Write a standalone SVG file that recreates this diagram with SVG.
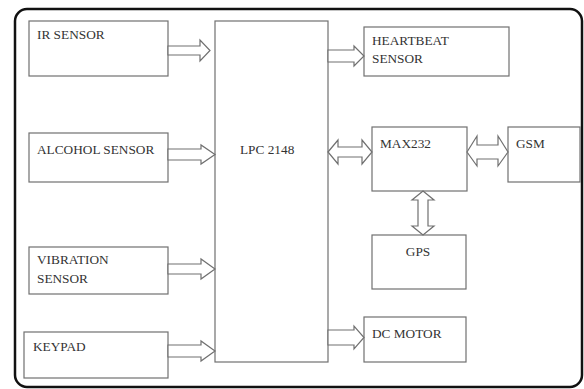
<svg xmlns="http://www.w3.org/2000/svg" width="584" height="389" viewBox="0 0 584 389" font-family="Liberation Serif, serif">
<style>
.box{fill:#fff;stroke:#707070;stroke-width:1.2}
.arr{fill:#fff;stroke:#707070;stroke-width:1.2;stroke-linejoin:miter}
.t{font-size:13.3px;fill:#333}
</style>
<rect width="584" height="389" fill="#fff"/>
<rect x="15" y="9" width="567" height="378" rx="12" fill="none" stroke="#111" stroke-width="2.5"/>
<g id="lpc"><rect class="box" x="215" y="21" width="113" height="341"/><text class="t" x="240" y="154">LPC 2148</text></g>
<g id="ir"><rect class="box" x="29" y="21" width="139" height="55"/><text class="t" x="37" y="39">IR SENSOR</text></g>
<g id="alcohol"><rect class="box" x="29" y="133" width="139" height="49"/><text class="t" x="37" y="154">ALCOHOL SENSOR</text></g>
<g id="vibration"><rect class="box" x="29" y="247" width="139" height="47"/><text class="t" x="37" y="264">VIBRATION</text><text class="t" x="37" y="283">SENSOR</text></g>
<g id="keypad"><rect class="box" x="24" y="332" width="144" height="46"/><text class="t" x="33" y="351">KEYPAD</text></g>
<g id="heartbeat"><rect class="box" x="364" y="27" width="145" height="49"/><text class="t" x="372" y="45">HEARTBEAT</text><text class="t" x="372" y="63">SENSOR</text></g>
<g id="max232"><rect class="box" x="372" y="127" width="95" height="64"/><text class="t" x="380" y="148">MAX232</text></g>
<g id="gsm"><rect class="box" x="508" y="127" width="72" height="55"/><text class="t" x="516" y="148">GSM</text></g>
<g id="gps"><rect class="box" x="372" y="235" width="94" height="54"/><text class="t" x="418" y="256" text-anchor="middle">GPS</text></g>
<g id="dcmotor"><rect class="box" x="364" y="317" width="102" height="45"/><text class="t" x="372" y="338">DC MOTOR</text></g>
<g id="connectors">
<polygon class="arr" points="168,46 200,46 200,40 210,50.5 200,61 200,55 168,55"/>
<polygon class="arr" points="168,149 201,149 201,145 215,154.5 201,164 201,160 168,160"/>
<polygon class="arr" points="168,264 201,264 201,259 215,269 201,279 201,274 168,274"/>
<polygon class="arr" points="168,345 201,345 201,341 215,351 201,361 201,357 168,357"/>
<polygon class="arr" points="328,50 354,50 354,46 364,56 354,66 354,62 328,62"/>
<polygon class="arr" points="328,330 354,330 354,326 364,337.5 354,349 354,345 328,345"/>
<polygon class="arr" points="328,152 338,140 338,147 362,147 362,140 372,152 362,164 362,157 338,157 338,164"/>
<polygon class="arr" points="467,152 477,136 477,145 498,145 498,136 508,152 498,166 498,159 477,159 477,166"/>
<polygon class="arr" points="423,191 434,200 428,200 428,226 434,226 423,235 412,226 418,226 418,200 412,200"/>
</g>
</svg>
